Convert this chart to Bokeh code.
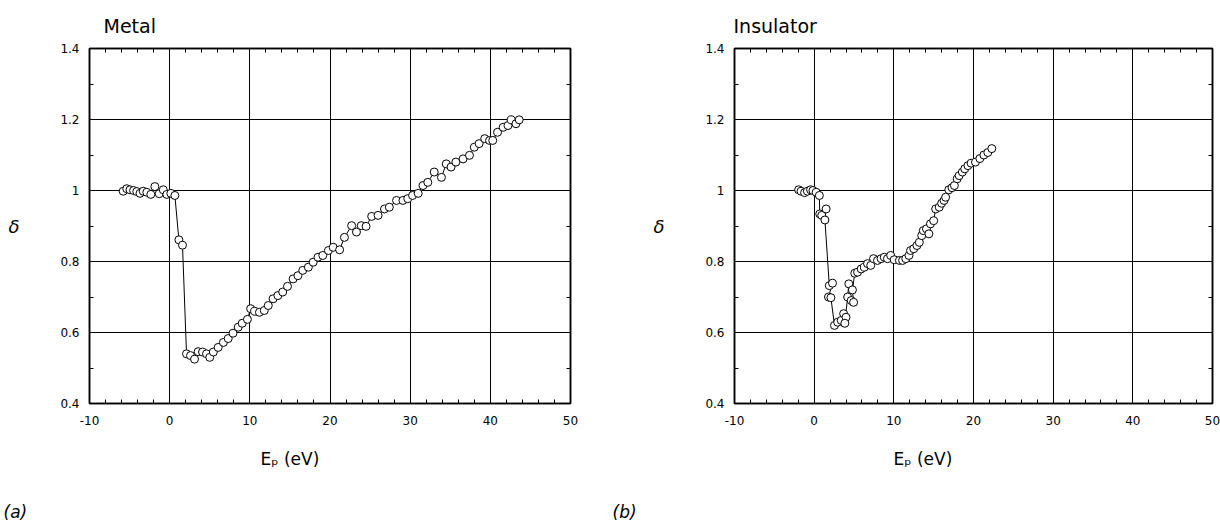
from bokeh.plotting import figure
from bokeh.models import FixedTicker, LinearAxis, Range1d, Title
from bokeh.layouts import row
from bokeh.embed import file_html
from bokeh.resources import INLINE

# ---------------- data ----------------
metal_ep = [-5.8, -5.35, -4.95, -4.5, -4.1, -3.7, -3.3, -2.85, -2.35, -1.85, -1.3, -0.8, -0.35, 0.15, 0.65,
            1.15, 1.6,
            2.1, 2.6, 3.1, 3.55, 4.1, 4.6, 5.0, 5.45, 6.05, 6.7, 7.3, 7.9, 8.55, 9.05, 9.7,
            10.1, 10.6, 11.2, 11.8, 12.3, 12.9, 13.5, 14.1, 14.7, 15.4,
            16.0, 16.6, 17.3, 17.9, 18.5, 19.1, 19.8, 20.4, 21.2, 21.8,
            22.7, 23.3, 23.9, 24.5, 25.2, 26.0, 26.8, 27.4, 28.3, 29.1,
            29.7, 30.3, 31.0, 31.6, 32.2, 33.0, 33.9, 34.5, 35.1, 35.7,
            36.6, 37.4, 38.0, 38.6, 39.3, 39.9, 40.3, 40.9, 41.6, 42.2,
            42.6, 43.2, 43.6]
metal_delta = [0.998, 1.005, 1.002, 1.0, 0.997, 0.992, 0.998, 0.995, 0.989, 1.011, 0.991, 1.002, 0.989, 0.992, 0.986,
               0.861, 0.846,
               0.540, 0.535, 0.525, 0.546, 0.545, 0.540, 0.530, 0.545, 0.558, 0.572, 0.583, 0.598, 0.615, 0.626, 0.637,
               0.667, 0.660, 0.657, 0.662, 0.676, 0.695, 0.704, 0.714, 0.730, 0.751,
               0.760, 0.775, 0.784, 0.798, 0.812, 0.817, 0.831, 0.840, 0.833, 0.868,
               0.901, 0.883, 0.901, 0.899, 0.927, 0.930, 0.948, 0.953, 0.972, 0.972,
               0.977, 0.986, 0.992, 1.014, 1.023, 1.052, 1.037, 1.075, 1.066, 1.080,
               1.089, 1.099, 1.122, 1.132, 1.146, 1.141, 1.141, 1.164, 1.178, 1.183,
               1.199, 1.188, 1.199]

insul_ep = [-1.95, -1.65, -1.2, -0.85, -0.45, -0.15, 0.25, 0.65, 0.7, 0.95,
            1.5, 1.35, 1.9, 2.3, 1.8, 2.1, 2.55, 2.95, 3.4, 3.7,
            4.0, 3.85, 4.2, 4.35, 4.65, 4.95, 4.8, 5.1, 5.45, 5.9,
            6.3, 6.7, 7.1, 7.45, 7.95, 8.4, 8.8, 9.2, 9.6, 10.05,
            10.7, 11.1, 11.5, 11.9, 12.1, 12.5, 12.9, 13.2, 13.5, 13.7,
            14.1, 14.4, 14.6, 15.0, 15.25, 15.7, 16.0, 16.3, 16.5, 16.9,
            17.3, 17.6, 17.95, 18.2, 18.6, 18.9, 19.3, 19.7, 20.25, 20.8,
            21.3, 21.8, 22.3]
insul_delta = [1.002, 0.998, 0.994, 0.998, 1.002, 1.0, 0.995, 0.986, 0.934, 0.930,
               0.948, 0.917, 0.732, 0.739, 0.700, 0.698, 0.620, 0.629, 0.634, 0.653,
               0.643, 0.626, 0.700, 0.737, 0.690, 0.685, 0.720, 0.767, 0.770, 0.779,
               0.784, 0.794, 0.789, 0.808, 0.803, 0.808, 0.812, 0.808, 0.817, 0.805,
               0.803, 0.803, 0.808, 0.817, 0.831, 0.836, 0.845, 0.854, 0.873, 0.887,
               0.892, 0.878, 0.906, 0.915, 0.948, 0.953, 0.964, 0.972, 0.981, 1.002,
               1.008, 1.014, 1.033, 1.042, 1.052, 1.061, 1.070, 1.077, 1.080, 1.090,
               1.100, 1.107, 1.118]

x_ticks = [-10, 0, 10, 20, 30, 40, 50]
x_minor = [-8, -6, -4, -2, 2, 4, 6, 8, 12, 14, 16, 18, 22, 24, 26, 28, 32, 34, 36, 38, 42, 44, 46, 48]
x_labels = {-10: "-10"}
y_ticks = [0.4, 0.6, 0.8, 1.0, 1.2, 1.4]
y_minor = [0.5, 0.7, 0.9, 1.1, 1.3]
y_labels = {0.4: "0.4", 0.6: "0.6", 0.8: "0.8", 1.0: "1", 1.2: "1.2", 1.4: "1.4"}

FONT = "DejaVu Sans"


def style_axis(ax):
    ax.axis_line_color = "black"
    ax.axis_line_width = 1.5
    ax.major_tick_in = 6
    ax.major_tick_out = 0
    ax.minor_tick_in = 4
    ax.minor_tick_out = 0
    ax.major_tick_line_color = "black"
    ax.minor_tick_line_color = "black"
    ax.major_label_text_font = FONT
    ax.major_label_text_font_size = "12px"
    ax.major_label_text_color = "black"


def make_panel(title, tag, ep, delta, frame_w, left_b, right_b, title_dx, xlabel_dx, tag_dx):
    p = figure(frame_width=frame_w, frame_height=355,
               x_range=Range1d(-10, 50), y_range=Range1d(0.4, 1.4),
               min_border_left=left_b, min_border_right=right_b,
               min_border_top=48, min_border_bottom=120,
               output_backend="svg", toolbar_location=None,
               background_fill_color="white", border_fill_color="white")
    p.outline_line_color = "black"
    p.outline_line_width = 1.5

    # bottom axis
    xa = p.xaxis[0]
    style_axis(xa)
    xa.ticker = FixedTicker(ticks=x_ticks, minor_ticks=x_minor)
    xa.major_label_standoff = 12
    xa.major_label_overrides = x_labels

    # left axis
    ya = p.yaxis[0]
    style_axis(ya)
    ya.ticker = FixedTicker(ticks=y_ticks, minor_ticks=y_minor)
    ya.major_label_standoff = 10
    ya.major_label_overrides = y_labels
    ya.axis_label = "δ"
    ya.axis_label_text_font = FONT
    ya.axis_label_text_font_size = "18px"
    ya.axis_label_text_font_style = "italic"
    ya.axis_label_text_color = "black"
    ya.axis_label_standoff = 38
    try:
        ya.axis_label_orientation = "horizontal"
    except Exception:
        pass

    # top and right axes: only minor ticks, no labels
    top = LinearAxis(ticker=FixedTicker(ticks=[], minor_ticks=x_minor))
    style_axis(top)
    top.major_label_standoff = 0
    p.add_layout(top, "above")
    right = LinearAxis(ticker=FixedTicker(ticks=[], minor_ticks=y_minor))
    style_axis(right)
    right.major_label_standoff = 0
    p.add_layout(right, "right")

    p.xgrid.ticker = FixedTicker(ticks=x_ticks)
    p.ygrid.ticker = FixedTicker(ticks=y_ticks)
    for g in (p.xgrid[0], p.ygrid[0]):
        g.grid_line_color = "black"
        g.grid_line_width = 1

    p.line(ep, delta, line_color="black", line_width=1)
    p.scatter(ep, delta, marker="circle", size=8, fill_color="white",
              line_color="black", line_width=1)

    # panel title
    p.title.text = title
    p.title.align = "left"
    p.title.offset = title_dx
    p.title.text_font = FONT
    p.title.text_font_size = "19px"
    p.title.text_font_style = "normal"
    p.title.text_color = "black"
    p.title.standoff = 23

    # x label  Ep (eV)
    p.add_layout(Title(text="E\u209a  (eV)", align="left", offset=xlabel_dx,
                       text_font=FONT, text_font_size="17px", text_font_style="normal",
                       text_color="black", standoff=39), "below")
    # panel tag
    p.add_layout(Title(text=tag, align="left", offset=tag_dx,
                       text_font=FONT, text_font_size="17px", text_font_style="italic",
                       text_color="black", standoff=22), "below")
    return p


p1 = make_panel("Metal", "(a)", metal_ep, metal_delta, 481, 89, 40, 14, 171, -86)
p2 = make_panel("Insulator", "(b)", insul_ep, insul_delta, 478, 124, 8, -1, 159, -122)

layout = row(p1, p2, spacing=0)
open("out.html", "w").write(file_html(layout, INLINE))
